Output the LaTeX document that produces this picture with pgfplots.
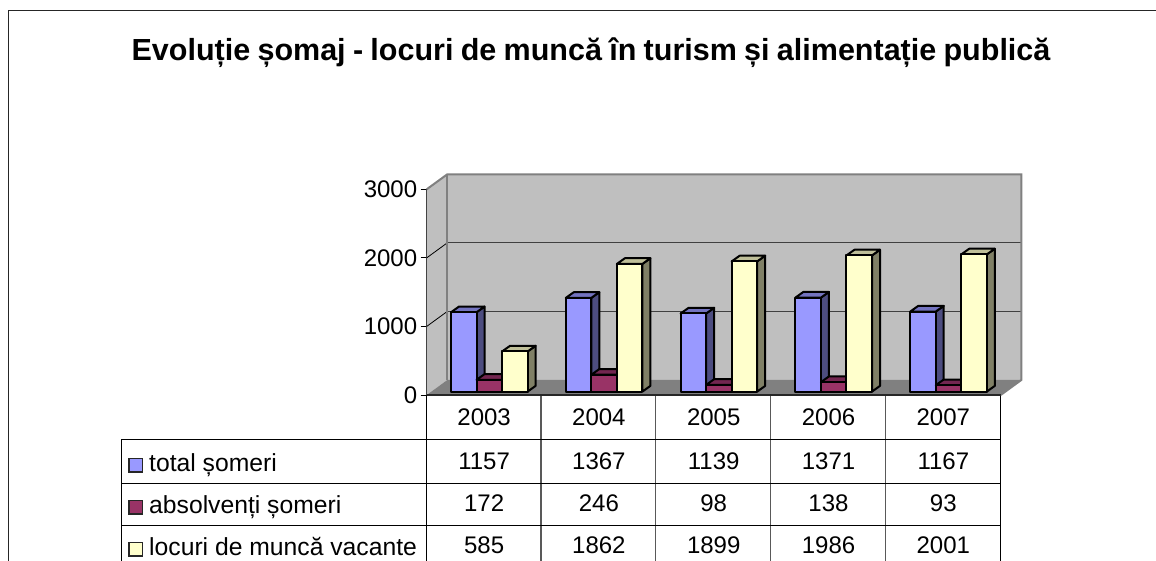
\documentclass[border=0pt]{standalone}
\usepackage{fontspec}
\setmainfont{Liberation Sans}
\usepackage{pgfplots}
\pgfplotsset{compat=1.18}
\definecolor{bF}{HTML}{9999FF}\definecolor{bS}{HTML}{4D4D80}\definecolor{bT}{HTML}{7373BF}
\definecolor{mF}{HTML}{993366}\definecolor{mS}{HTML}{4D1A33}\definecolor{mT}{HTML}{732650}
\definecolor{yF}{HTML}{FFFFCC}\definecolor{yS}{HTML}{808066}\definecolor{yT}{HTML}{BFBF99}
\newcommand{\cuboid}[3]{% position, value, colour prefix
  \pgfmathsetmacro{\xa}{#1}
  \pgfmathsetmacro{\xb}{#1+0.2224}
  \pgfmathsetmacro{\xc}{#1+0.2224+0.0697}
  \pgfmathsetmacro{\xd}{#1+0.0697}
  \pgfmathsetmacro{\yt}{#2+83}
  \addplot[draw=black,line width=2pt,line join=round,fill=#3S] coordinates {(\xb,0)(\xc,83)(\xc,\yt)(\xb,#2)} -- cycle;
  \addplot[draw=black,line width=2pt,line join=round,fill=#3T] coordinates {(\xa,#2)(\xb,#2)(\xc,\yt)(\xd,\yt)} -- cycle;
  \addplot[draw=black,line width=2pt,line join=round,fill=#3F] coordinates {(\xa,0)(\xb,0)(\xb,#2)(\xa,#2)} -- cycle;
}
\begin{document}
\begin{tikzpicture}[x=1pt,y=1pt]
\path[use as bounding box] (0,0) rectangle (1156,561);
\begin{scope}[y=-1pt,yshift=561pt]
\draw[black!85,line width=1.5pt] (8.7,561) -- (8.7,10.7) -- (1156,10.7);
\node[anchor=base,inner sep=0pt,font=\fontsize{30.5}{36}\bfseries\selectfont] at (591,61) {\spaceskip=7.3pt Evoluție șomaj - locuri de muncă în turism și alimentație publică};
\end{scope}
\begin{axis}[
  at={(426.7pt,166pt)},anchor=south west,scale only axis,width=574pt,height=205.7pt,
  xmin=-0.5,xmax=4.5,ymin=0,ymax=3000,clip=false,
  axis x line=bottom,axis y line=left,axis line style={-,black},
  x axis line style={line width=0pt},y axis line style={line width=0.9pt},
  xtick={0,1,2,3,4},xticklabels={2003,2004,2005,2006,2007},
  ytick={0,1000,2000,3000},
  y tick label style={/pgf/number format/1000 sep={},/pgf/number format/assume math mode=true},
  tick label style={font=\fontsize{24}{28}\selectfont},
  x tick style={draw=none},
  y tick style={black,line width=0.9pt},
  tick align=outside,major tick length=6pt,
  xticklabel style={anchor=base,yshift=-24.5pt,inner sep=0pt},
  yticklabel style={xshift=0pt},
]
% walls
\addplot[fill=black!25,draw=none] coordinates {(-0.5,0)(-0.3206,219)(-0.3206,3219)(-0.5,3000)} -- cycle;
\addplot[fill=black!25,draw=none] coordinates {(-0.3206,219)(4.6794,219)(4.6794,3219)(-0.3206,3219)} -- cycle;
\addplot[fill=black!50,draw=none] coordinates {(-0.5,0)(4.5,0)(4.6794,219)(-0.3206,219)} -- cycle;
% grid
\addplot[draw=black,line width=0.8pt] coordinates {(-0.5,1000)(-0.3206,1219)};
\addplot[draw=black,line width=0.8pt] coordinates {(-0.5,2000)(-0.3206,2219)};
\addplot[draw=black!75,line width=1pt] coordinates {(-0.3206,1219)(4.6794,1219)};
\addplot[draw=black!75,line width=1pt] coordinates {(-0.3206,2219)(4.6794,2219)};
% wall edges
\addplot[draw=black!50,line width=2pt] coordinates {(-0.5,3000)(-0.3206,3219)(4.6794,3219)(4.6794,219)(4.5,0)};
\addplot[draw=black!50,line width=2pt] coordinates {(-0.3206,219)(-0.3206,3219)};
\addplot[draw=black!85,line width=2pt] coordinates {(-0.5,0)(4.5,0)};
\end{axis}
\begin{axis}[
  at={(431.9pt,169.4pt)},anchor=south west,scale only axis,width=574pt,height=205.7pt,
  xmin=-0.5,xmax=4.5,ymin=0,ymax=3000,clip=false,axis lines=none,
]
\cuboid{-0.3336}{1157}{b}\cuboid{-0.1112}{172}{m}\cuboid{0.1112}{585}{y}
\cuboid{0.6664}{1367}{b}\cuboid{0.8888}{246}{m}\cuboid{1.1112}{1862}{y}
\cuboid{1.6664}{1139}{b}\cuboid{1.8888}{98}{m}\cuboid{2.1112}{1899}{y}
\cuboid{2.6664}{1371}{b}\cuboid{2.8888}{138}{m}\cuboid{3.1112}{1986}{y}
\cuboid{3.6664}{1167}{b}\cuboid{3.8888}{93}{m}\cuboid{4.1112}{2001}{y}
\end{axis}
\begin{scope}[y=-1pt,yshift=561pt,font=\fontsize{24}{28}\selectfont]
\foreach \x in {541,655.8,770.6,885.7} \draw[black!65,line width=1.1pt] (\x,396) -- (\x,561);
\draw[black,line width=0.9pt] (426.7,396) -- (426.7,561);
\draw[black,line width=0.9pt] (1000.5,396) -- (1000.5,561);
\draw[black,line width=0.9pt] (121.5,439.5) -- (121.5,561);
\foreach \y in {439.5,483.5,525.5} \draw[black,line width=0.9pt] (121.5,\y) -- (1000.5,\y);
\foreach \y/\c/\t in {472/bF/total șomeri,514/mF/absolvenți șomeri,556/yF/locuri de muncă vacante}{
  \draw[black!85,line width=1.5pt,fill=\c] (129,\y-13.5) rectangle (142.5,\y);
  \node[anchor=base west,inner sep=0pt,font=\fontsize{24.7}{28}\selectfont] at (149,\y) {\t};
}
\foreach \x/\a/\b/\c in {484.1/1157/172/585,598.9/1367/246/1862,713.7/1139/98/1899,828.5/1371/138/1986,943.3/1167/93/2001}{
  \node[anchor=base,inner sep=0pt] at (\x,470) {\a};
  \node[anchor=base,inner sep=0pt] at (\x,512) {\b};
  \node[anchor=base,inner sep=0pt] at (\x,554) {\c};
}
\end{scope}
\end{tikzpicture}
\end{document}
